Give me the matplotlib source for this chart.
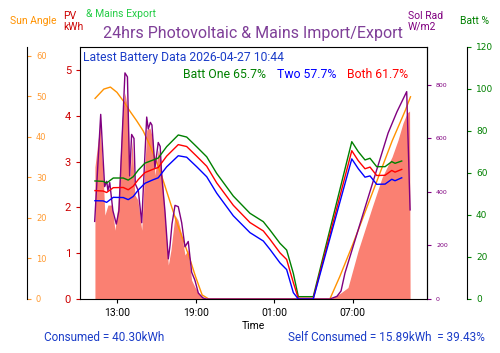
import matplotlib
matplotlib.use("Agg")
import matplotlib.pyplot as plt

plt.rcParams["font.family"] = ["Roboto", "DejaVu Sans"]

# ------ data (hours from midnight of the first day)

pv_hours = [11.32, 11.70, 11.93, 12.08, 12.31, 12.62, 12.85, 13.08, 13.38, 13.61, 13.84,
            13.99, 14.15, 14.37, 14.60, 14.89, 15.27, 15.52, 15.75, 15.90, 16.15, 16.36,
            16.66, 16.92, 17.12, 17.43, 17.66, 17.94, 18.19, 18.42, 18.70, 18.95, 19.34,
            19.72, 29.26, 30.02, 30.63, 31.40, 32.47, 33.23, 33.99, 34.45, 34.83, 35.14,
            35.33, 35.37]
pv_kwh = [2.88, 3.80, 2.80, 1.83, 2.05, 2.05, 1.50, 2.05, 3.90, 4.50, 4.10,
          2.60, 3.47, 2.27, 2.16, 1.50, 3.69, 3.73, 3.47, 2.70, 3.25, 3.03,
          1.83, 0.74, 1.07, 1.83, 1.72, 1.40, 0.96, 1.07, 0.41, 0.26, 0.09,
          0.0, 0.0, 0.12, 0.25, 1.05, 2.00, 2.65, 3.10, 3.47, 3.84, 4.06,
          4.10, 0.0]

sun_hours = [11.33, 12.0, 12.5, 13.0, 13.5, 14.0, 14.5, 15.0, 15.5, 16.0, 16.5, 17.0,
             17.5, 18.0, 18.5, 19.0, 19.5, 20.0, 29.25, 30.0, 31.0, 32.0, 33.0, 34.0,
             35.0, 35.4]
sun_angle = [49.5, 51.8, 52.3, 51.0, 48.8, 46.3, 44.0, 41.5, 38.0, 34.0, 29.5, 24.5,
             19.5, 15.0, 10.5, 5.5, 1.0, 0.0, 0.0, 5.5, 13.5, 22.0, 30.5, 39.0,
             46.5, 49.9]

rad_hours = [11.30, 11.76, 12.06, 12.22, 12.31, 12.45, 12.69, 12.95, 13.15, 13.61, 13.80,
             13.97, 14.12, 14.30, 14.40, 14.63, 14.89, 15.27, 15.39, 15.55, 15.67, 15.90,
             16.15, 16.30, 16.40, 16.66, 16.92, 17.05, 17.20, 17.43, 17.68, 17.94, 18.19,
             18.44, 18.70, 18.95, 19.21, 19.56, 19.80, 29.26, 29.79, 30.10, 30.40, 31.92,
             33.69, 34.37, 35.11, 35.37]
sol_rad = [290, 690, 420, 440, 405, 435, 330, 280, 330, 845, 830,
           460, 615, 600, 430, 405, 285, 680, 635, 660, 650, 490,
           585, 570, 470, 330, 150, 200, 280, 350, 345, 285, 195,
           215, 100, 70, 22, 4, 0, 0, 10, 30, 97, 340,
           620, 700, 775, 333]

batt_hours = [11.32, 11.95, 12.21, 12.72, 13.48, 13.86, 14.24, 14.63, 15.14, 15.77, 16.15,
              16.79, 17.68, 18.32, 19.08, 19.85, 20.61, 21.88, 23.15, 24.17, 24.68, 25.44,
              25.95, 26.46, 26.84, 27.98, 30.92, 31.42, 31.93, 32.31, 32.82, 33.46, 33.97,
              34.22, 34.73]
batt_one = [56.2, 56.0, 55.2, 57.6, 57.6, 56.6, 58.2, 61.4, 64.7, 66.2, 67.1,
            72.5, 78.1, 77.1, 72.5, 67.7, 59.8, 49.0, 40.8, 36.8, 32.8, 26.5,
            23.3, 12.2, 1.1, 1.1, 74.9, 70.1, 66.2, 67.0, 63.0, 63.0, 65.4,
            64.6, 65.7]
batt_both = [51.6, 51.4, 50.7, 53.0, 53.1, 52.0, 53.7, 56.9, 60.2, 61.8, 62.6,
             68.0, 73.5, 72.6, 68.0, 63.2, 55.3, 44.6, 36.4, 32.4, 28.4, 22.0,
             18.8, 7.8, 0.3, 0.3, 70.6, 65.8, 62.0, 62.8, 58.8, 58.9, 61.2,
             60.4, 61.7]
batt_two = [46.8, 46.7, 46.0, 48.4, 48.3, 47.3, 48.8, 51.9, 55.1, 56.8, 57.7,
            62.9, 68.2, 67.5, 63.0, 58.2, 50.4, 39.6, 31.6, 27.6, 23.6, 17.2,
            14.0, 3.0, 0.0, 0.0, 66.7, 62.0, 58.0, 58.6, 54.6, 54.7, 57.0,
            56.3, 57.7]

tick_hours = [13, 19, 25, 31]
tick_labels = ["13:00", "19:00", "01:00", "07:00"]

# ------

fig = plt.figure(figsize=(5, 3.53), dpi=100)
ax = fig.add_axes([0.16, 0.153, 0.694, 0.714])

ax.fill_between(pv_hours, pv_kwh, color="salmon", lw=0)
ax.set_xlim(10.18, 36.66)
ax.set_ylim(0, 5.5)
ax.set_xticks(tick_hours, tick_labels)
ax.tick_params(axis="x", labelsize=7.5, length=3)
ax.tick_params(axis="y", colors="#cc0000", labelsize=8, length=3)
ax.set_xlabel("Time", fontsize=7.5, labelpad=2)

# sun angle, spine moved far left
ax_sun = ax.twinx()
ax_sun.plot(sun_hours, sun_angle, color="#ff9200", lw=1)
ax_sun.set_ylim(0, 62.2)
ax_sun.spines["right"].set_position(("axes", -0.153))
for s in ["left", "top", "bottom"]:
    ax_sun.spines[s].set_visible(False)
ax_sun.tick_params(axis="y", colors="#ff9a30", labelsize=6, length=3,
                   labelfontfamily="DejaVu Sans")
ax_sun.set_yticks([0, 10, 20, 30, 40, 50, 60])

# solar radiation
ax_rad = ax.twinx()
ax_rad.plot(rad_hours, sol_rad, color="purple", lw=1)
ax_rad.set_ylim(0, 942)
for s in ["left", "top", "bottom"]:
    ax_rad.spines[s].set_visible(False)
ax_rad.set_yticks([0, 200, 400, 600, 800])
ax_rad.tick_params(axis="y", colors="purple", labelsize=4.5, length=3,
                   labelfontfamily="DejaVu Sans")

# battery
ax_bat = ax.twinx()
ax_bat.plot(batt_hours, batt_one, color="green", lw=1)
ax_bat.plot(batt_hours, batt_both, color="red", lw=1)
ax_bat.plot(batt_hours, batt_two, color="blue", lw=1)
ax_bat.set_ylim(0, 120)
ax_bat.spines["right"].set_position(("axes", 1.115))
for s in ["left", "top", "bottom"]:
    ax_bat.spines[s].set_visible(False)
ax_bat.set_yticks([0, 20, 40, 60, 80, 100, 120])
ax_bat.tick_params(axis="y", colors="green", labelsize=6.5, length=3,
                   labelfontfamily="DejaVu Sans")

for a in [ax_sun, ax_bat]:
    a.spines["right"].set_color("black")

# ------ labels

fig.text(0.02, 0.94, "Sun Angle", color="#ff9200", fontsize=7.5, va="center")
fig.text(0.126, 0.94, "PV\nkWh", color="#cc0000", fontsize=7.5, va="center", linespacing=1.1)
fig.text(0.172, 0.96, "& Mains Export", color="#22cc44", fontsize=7.5, va="center")
fig.text(0.506, 0.906, "24hrs Photovoltaic & Mains Import/Export", color="#7f3f98",
         fontsize=11.5, ha="center", va="center")
fig.text(0.816, 0.94, "Sol Rad\nW/m2", color="purple", fontsize=7.5, va="center", linespacing=1.1)
fig.text(0.92, 0.94, "Batt %", color="green", fontsize=7.5, va="center")

ax.text(0.008, 0.985, "Latest Battery Data 2026-04-27 10:44", transform=ax.transAxes,
        color="#1a3cc8", fontsize=8.7, va="top")
ax.text(0.297, 0.915, "Batt One 65.7%", transform=ax.transAxes, color="green",
        fontsize=8.8, va="top")
ax.text(0.568, 0.915, "Two 57.7%", transform=ax.transAxes, color="blue",
        fontsize=8.8, va="top")
ax.text(0.77, 0.915, "Both 61.7%", transform=ax.transAxes, color="red",
        fontsize=8.8, va="top")

fig.text(0.088, 0.045, "Consumed = 40.30kWh", color="#1a3cc8", fontsize=8.5, va="center")
fig.text(0.576, 0.045, "Self Consumed = 15.89kWh  = 39.43%", color="#1a3cc8",
         fontsize=8.5, va="center")

fig.savefig("out.png", dpi=100)
